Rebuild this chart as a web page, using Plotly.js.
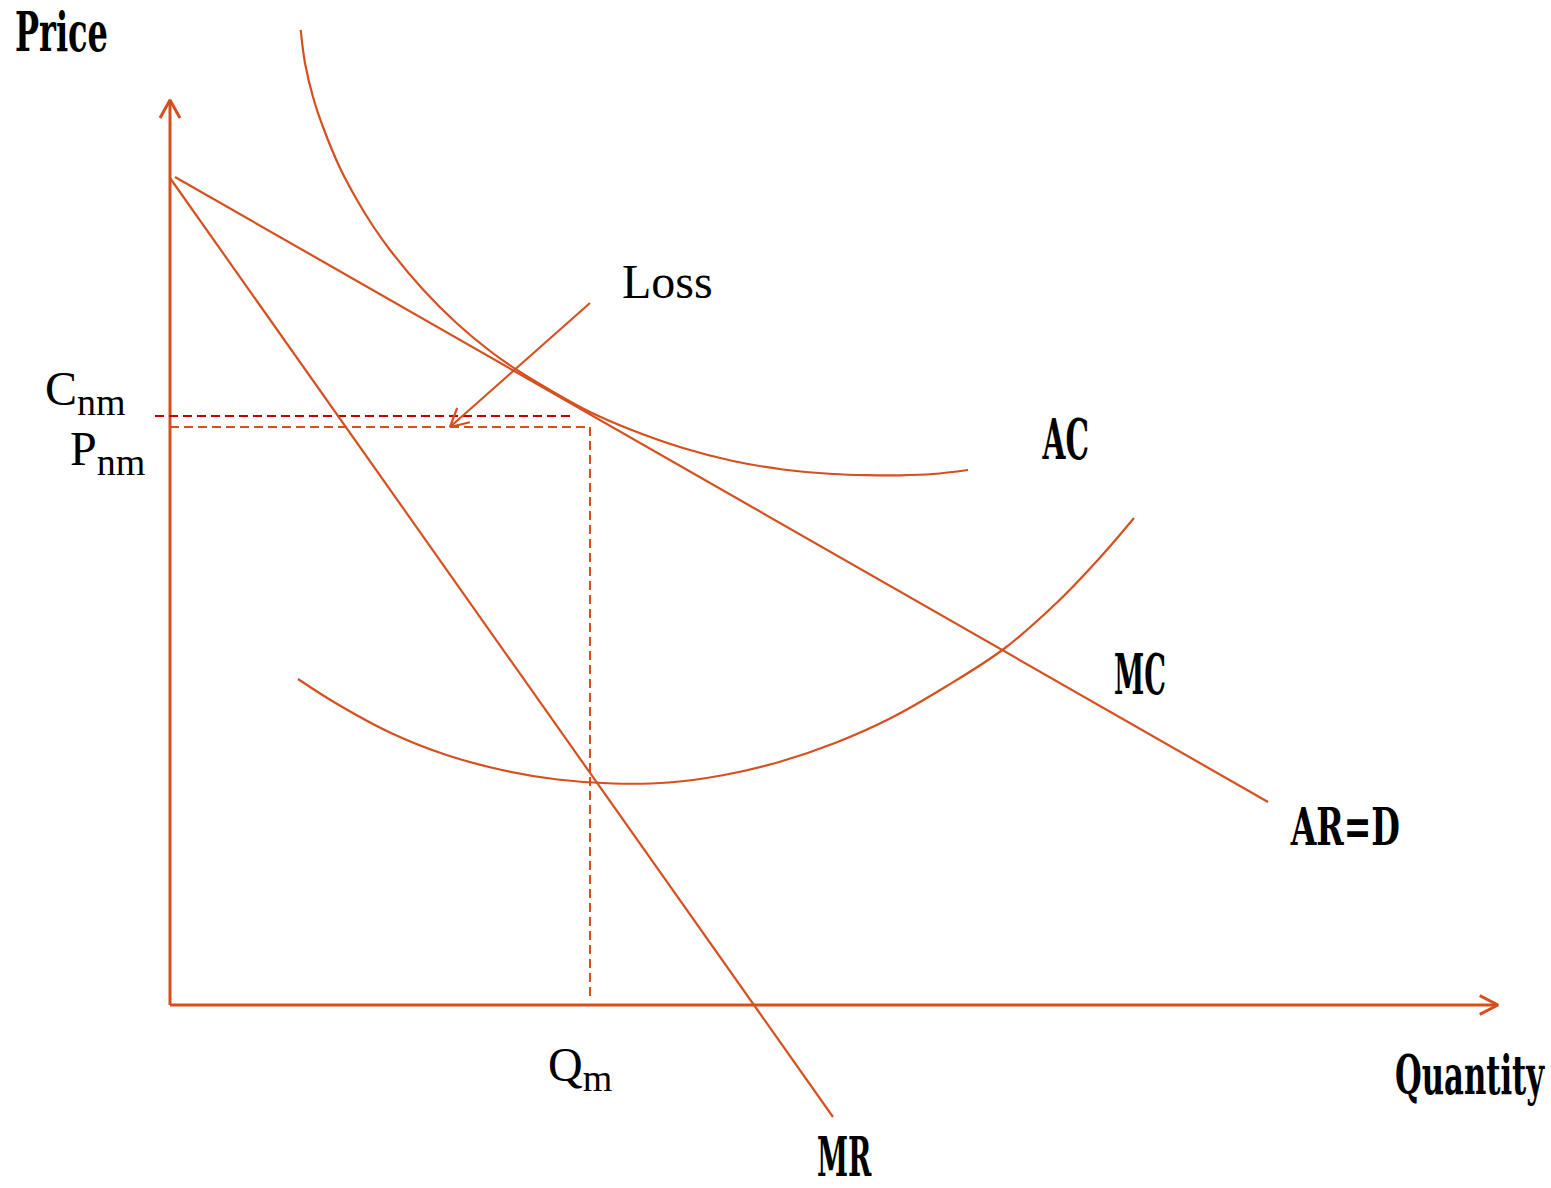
<!DOCTYPE html>
<html>
<head>
<meta charset="utf-8">
<script src="https://cdn.plot.ly/plotly-3.0.1.min.js"></script>
<style>html,body{margin:0;padding:0;background:#fff;}#chart{width:1551px;height:1188px;}</style>
</head>
<body>
<div id="chart"></div>
<script>
// ---- Data (economic units: quantity on x, price on y) ----
const acQ  = [13.07, 13.5, 14.3, 15.3, 17.0, 18.7, 20.3, 22.0, 25.3, 28.7, 32.0, 34.7, 38.0, 42.0, 46.3, 51.3, 56.3, 61.3, 66.3, 69.7, 73.0, 76.3, 79.8];
const acP  = [97.5, 94.2, 90.8, 87.8, 83.7, 80.5, 77.9, 75.5, 71.55, 68.15, 65.4, 63.5, 61.5, 59.3, 57.45, 55.7, 54.4, 53.55, 53.1, 52.98, 52.97, 53.1, 53.5];
const mcQ  = [12.8, 16.55, 22.1, 27.65, 33.2, 38.75, 44.3, 49.9, 55.4, 61.0, 66.5, 72.1, 77.6, 83.3, 88.7, 93.1, 96.4];
const mcP  = [32.6, 30.2, 27.2, 25.0, 23.5, 22.55, 22.15, 22.25, 23.0, 24.33, 26.2, 28.7, 31.85, 35.55, 40.25, 44.85, 48.7];
const arQ  = [0.5, 109.8];
const arP  = [82.8, 20.3];
const mrQ  = [0, 66.3];
const mrP  = [82.7, -11.2];
const Cnm = 58.9, Pnm = 57.8, Qm = 42.0;
const cnmStart = -1.5, cnmEnd = 40.4;
const axisTopP = 90.5, axisEndQ = 132.8;
const lossFrom = [42.0, 70.2], lossTo = [28.0, 57.8];

const curveLabels = ['Price', 'AC', 'MC', 'AR=D', 'MR', 'Quantity'];
const curveLabelWidths = [93, 47, 52, 110, 55, 150]; // rendered widths (px) of the condensed labels

const ORANGE = '#D5501F';
const DARKRED = '#C00000';

function head(tip, from, len, angDeg){
  const dx = from[0]-tip[0], dy = from[1]-tip[1];
  const n = Math.hypot(dx,dy); const ux = dx/n, uy = dy/n;
  const a = angDeg*Math.PI/180;
  const r = (s)=>[ux*Math.cos(s)-uy*Math.sin(s), ux*Math.sin(s)+uy*Math.cos(s)];
  const p1 = r(a), p2 = r(-a);
  return {x:[tip[0]+len*p1[0], tip[0], tip[0]+len*p2[0]], y:[tip[1]+len*p1[1], tip[1], tip[1]+len*p2[1]]};
}
function ln(x,y,line){
  return {type:'scatter',mode:'lines',x:x,y:y,hoverinfo:'skip',showlegend:false,line:line};
}

const hY = head([0,axisTopP],[0,0],2.05,29);
const hX = head([axisEndQ,0],[0,0],2.05,27);
const hL = head(lossTo,lossFrom,2.05,28);

const traces = [
  ln([0,0],[0,axisTopP],{color:ORANGE,width:3}),
  ln([0,axisEndQ],[0,0],{color:ORANGE,width:3}),
  ln(hY.x,hY.y,{color:ORANGE,width:3}),
  ln(hX.x,hX.y,{color:ORANGE,width:3}),
  ln([cnmStart,cnmEnd],[Cnm,Cnm],{color:DARKRED,width:2.2,dash:'9px,5px'}),
  ln([0,Qm,Qm],[Pnm,Pnm,0.5],{color:ORANGE,width:2,dash:'9px,5px'}),
  ln(acQ,acP,{color:ORANGE,width:2.2,shape:'spline',smoothing:1}),
  ln(mcQ,mcP,{color:ORANGE,width:2.2,shape:'spline',smoothing:1}),
  ln(arQ,arP,{color:ORANGE,width:2.2}),
  ln(mrQ,mrP,{color:ORANGE,width:2.2}),
  ln([lossFrom[0],lossTo[0]],[lossFrom[1],lossTo[1]],{color:ORANGE,width:2.2}),
  ln(hL.x,hL.y,{color:ORANGE,width:2.2})
];

function boldFont(size){ return {family:'"DejaVu Serif", serif', size:size, color:'#000', weight:'bold'}; }
const SERIF = {family:'"Liberation Serif", "Times New Roman", serif', size:48, color:'#000'};
const SUB = (s)=>'<sub><span style="font-size:38px">'+s+'</span></sub>';
function lab(text,x,y,font){
  return {text:text,x:x,y:y,xref:'x',yref:'y',xanchor:'left',yanchor:'middle',align:'left',showarrow:false,font:font};
}
const annotations = [
  lab(curveLabels[0],-15.7,97.3,boldFont(54)),
  lab(curveLabels[1],87.0,56.6,boldFont(56)),
  lab(curveLabels[2],94.2,33.1,boldFont(56)),
  lab(curveLabels[3],111.8,17.9,boldFont(52)),
  lab(curveLabels[4],64.5,-15.2,boldFont(54)),
  lab(curveLabels[5],122.3,-7.0,boldFont(54)),
  lab('Loss',45.0,72.4,SERIF),
  lab('C'+SUB('nm'),-12.7,61.3,SERIF),
  lab('P'+SUB('nm'),-10.2,55.3,SERIF),
  lab('Q'+SUB('m'),37.6,-6.3,SERIF)
];

const layout = {
  width:1551, height:1188,
  margin:{l:0,r:0,t:0,b:0,pad:0},
  paper_bgcolor:'#fff', plot_bgcolor:'#fff',
  xaxis:{range:[-17,138.1],visible:false,showgrid:false,zeroline:false,fixedrange:true},
  yaxis:{range:[-18.3,100.5],visible:false,showgrid:false,zeroline:false,fixedrange:true},
  annotations:annotations,
  showlegend:false
};
Plotly.newPlot('chart',traces,layout,{displayModeBar:false,staticPlot:true}).then(function(gd){
  // condense the bold curve labels horizontally to the reference widths
  curveLabelWidths.forEach(function(w,i){
    const t = gd.querySelector('.annotation[data-index="'+i+'"] text.annotation-text');
    if(!t) return;
    const bb = t.getBBox();
    const s = w/bb.width;
    t.setAttribute('transform','translate('+bb.x+',0) scale('+s+',1) translate('+(-bb.x)+',0)');
  });
});
</script>
</body>
</html>
